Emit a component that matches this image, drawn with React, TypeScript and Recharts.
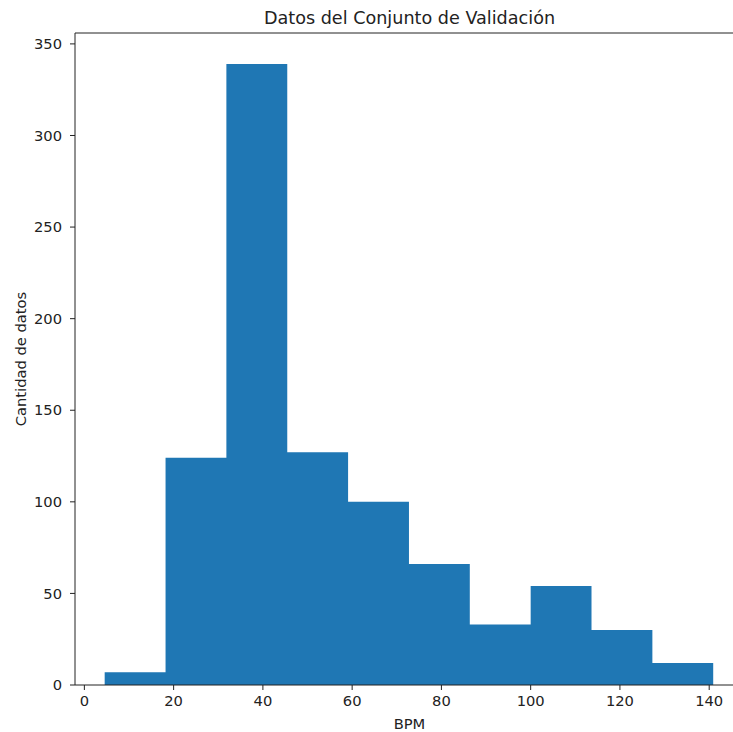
import React from 'react';
import { ComposedChart, Area, XAxis, YAxis } from 'recharts';

const binEdges = [4.55, 18.19, 31.82, 45.46, 59.09, 72.73, 86.36, 100.0, 113.63, 127.27, 140.9];
const counts = [7, 124, 339, 127, 100, 66, 33, 54, 30, 12];
const xTicks = [0, 20, 40, 60, 80, 100, 120, 140];
const yTicks = [0, 50, 100, 150, 200, 250, 300, 350];
const title = 'Datos del Conjunto de Validación';
const xLabel = 'BPM';
const yLabel = 'Cantidad de datos';

const xDomain: [number, number] = [-2.1, 147.8];
const yDomain: [number, number] = [0, 355.95];

const data = binEdges.map((e, i) => ({ bpm: e, count: counts[Math.min(i, counts.length - 1)] }));

const FONT = '"DejaVu Sans", sans-serif';
const TEXT = '#222';
const AXIS = '#222';
const FS = 14.7;

export default function App() {
  return (
    <div style={{ position: 'absolute', left: 0, top: 0, width: 733, height: 732, overflow: 'hidden', background: '#fff' }}>
      <ComposedChart
        width={760}
        height={732}
        data={data}
        margin={{ top: 0, right: 16, bottom: 0, left: 0 }}
      >
        <XAxis
          xAxisId="top"
          orientation="top"
          type="number"
          dataKey="bpm"
          domain={xDomain}
          allowDataOverflow
          height={33}
          tick={false}
          tickLine={false}
          axisLine={{ stroke: AXIS, strokeWidth: 1 }}
          label={{
            content: (props: any) => {
              const vb = props.viewBox || { x: 75, width: 669 };
              return (
                <text
                  x={vb.x + vb.width / 2}
                  y={24}
                  textAnchor="middle"
                  fontFamily={FONT}
                  fontSize={17.6}
                  fill={TEXT}
                >
                  {title}
                </text>
              );
            },
          }}
        />
        <XAxis
          type="number"
          dataKey="bpm"
          domain={xDomain}
          allowDataOverflow
          ticks={xTicks}
          interval={0}
          height={47}
          tickSize={5}
          tickMargin={6}
          axisLine={{ stroke: AXIS, strokeWidth: 1 }}
          tickLine={{ stroke: AXIS, strokeWidth: 1 }}
          tick={{ fontFamily: FONT, fontSize: FS, fill: TEXT }}
          label={{
            content: (props: any) => {
              const vb = props.viewBox || { x: 75, width: 669 };
              return (
                <text
                  x={vb.x + vb.width / 2}
                  y={729}
                  textAnchor="middle"
                  fontFamily={FONT}
                  fontSize={FS}
                  fill={TEXT}
                >
                  {xLabel}
                </text>
              );
            },
          }}
        />
        <YAxis
          type="number"
          domain={yDomain}
          allowDataOverflow
          ticks={yTicks}
          interval={0}
          width={75}
          tickSize={5}
          tickMargin={8}
          axisLine={{ stroke: AXIS, strokeWidth: 1 }}
          tickLine={{ stroke: AXIS, strokeWidth: 1 }}
          tick={{ fontFamily: FONT, fontSize: FS, fill: TEXT }}
          label={{
            content: (props: any) => {
              const vb = props.viewBox || { y: 33, height: 652 };
              const cy = vb.y + vb.height / 2;
              return (
                <text
                  x={20}
                  y={cy}
                  transform={`rotate(-90, 20, ${cy})`}
                  textAnchor="middle"
                  dominantBaseline="central"
                  fontFamily={FONT}
                  fontSize={FS}
                  fill={TEXT}
                >
                  {yLabel}
                </text>
              );
            },
          }}
        />
        <Area
          type="stepAfter"
          dataKey="count"
          fill="#1f77b4"
          fillOpacity={1}
          stroke="none"
          baseValue={0}
          isAnimationActive={false}
          dot={false}
          activeDot={false}
        />
      </ComposedChart>
    </div>
  );
}
